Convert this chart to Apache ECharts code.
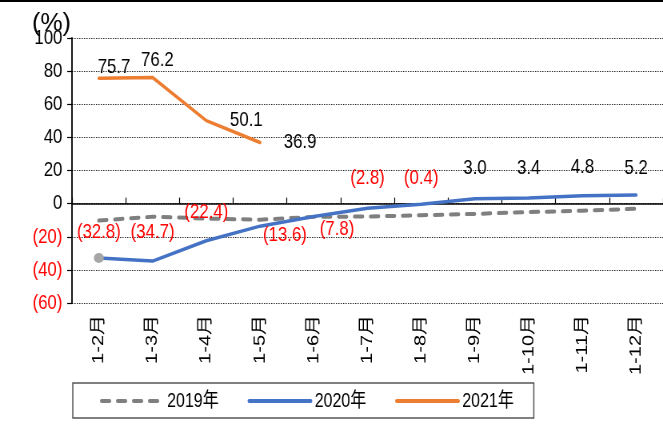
<!DOCTYPE html>
<html>
<head>
<meta charset="utf-8">
<script src="https://cdn.jsdelivr.net/npm/echarts@6/dist/echarts.min.js"></script>
<style>
html,body{margin:0;padding:0;background:#fff;overflow:hidden;width:663px;height:424px;}
#chart{width:829px;height:424px;transform:scaleX(0.79976);transform-origin:0 0;}
</style>
</head>
<body>
<div id="chart"></div>
<script>
// ---- data ----
var categories = ['1-2月','1-3月','1-4月','1-5月','1-6月','1-7月','1-8月','1-9月','1-10月','1-11月','1-12月'];
var s2019 = [-10.2, -7.9, -9.0, -9.7, -8.0, -7.8, -7.0, -6.2, -5.1, -4.3, -3.1];
var s2020 = [-32.8, -34.7, -22.4, -13.6, -7.8, -2.8, -0.4, 3.0, 3.4, 4.8, 5.2];
var s2021 = [75.7, 76.2, 50.1, 36.9];
var seriesNames = ['2019年', '2020年', '2021年'];
var yTicks = {min: -60, max: 100, interval: 20};

// label offsets (styling only, in unscaled px)
var off2020 = [[0,-26],[0,-29],[0,-29],[31,9],[29,13],[0,-30],[0,-26],[0,-30],[0,-30],[0,-28],[0,-27]];
var off2021 = [[19,-11],[6,-17],[50,0],[50,0]];

var FONT = "'Liberation Sans', Arial, 'Noto Sans CJK SC', sans-serif";

function fmt(v){ return v < 0 ? '(' + Math.abs(v).toFixed(1) + ')' : v.toFixed(1); }

function buildData(arr, offs, first){
  return arr.map(function(v, i){
    var item = {
      value: v,
      label: {
        show: true,
        position: 'inside',
        offset: offs[i],
        formatter: fmt(v),
        color: v < 0 ? '#ff0000' : '#000000',
        fontSize: 21,
        fontFamily: FONT
      }
    };
    if (first && i === 0) {
      item.symbolSize = [12.5, 10];
      item.itemStyle = {color: '#a6a6a6'};
    }
    return item;
  });
}

var chart = echarts.init(document.getElementById('chart'), null, {renderer: 'canvas', width: 829, height: 424});
chart.setOption({
  animation: false,
  backgroundColor: '#ffffff',
  grid: {left: 90, right: -3.5, top: 38, bottom: 121, containLabel: false},
  xAxis: [
    {
      type: 'category', data: categories, position: 'bottom', boundaryGap: true,
      axisLine: {show: false, onZero: false},
      axisTick: {show: false},
      axisLabel: {rotate: 90, margin: 12, fontSize: 20, color: '#000', fontFamily: FONT, interval: 0},
      splitLine: {show: false}
    },
    {
      type: 'category', data: categories, position: 'bottom', boundaryGap: true,
      axisLine: {show: true, onZero: true, lineStyle: {color: '#000', width: 1.5}},
      axisTick: {show: true, inside: true, length: 6, lineStyle: {color: '#000', width: 1.2}},
      axisLabel: {show: false},
      splitLine: {show: false}
    }
  ],
  yAxis: {
    type: 'value', min: yTicks.min, max: yTicks.max, interval: yTicks.interval,
    axisLine: {show: true, lineStyle: {color: '#000', width: 1.8}},
    axisTick: {show: true, length: 6, lineStyle: {color: '#000', width: 1.2}},
    axisLabel: {
      margin: 12, fontSize: 21, fontFamily: FONT,
      formatter: function(v){ return v < 0 ? '(' + Math.abs(v) + ')' : String(v); },
      color: function(v){ return Number(v) < 0 ? '#ff0000' : '#000000'; }
    },
    splitLine: {show: true, lineStyle: {color: '#222', type: [1.5, 1.5], width: 1}}
  },
  legend: {
    left: 91, top: 383,
    orient: 'horizontal',
    itemWidth: 77, itemHeight: 14, itemGap: 36,
    padding: [8, 25, 7, 34],
    borderColor: '#555', borderWidth: 1.5,
    itemStyle: {opacity: 0},
    lineStyle: {width: 4, cap: 'round'},
    textStyle: {fontSize: 20, color: '#000', fontFamily: FONT},
    data: seriesNames
  },
  graphic: [
    {type: 'rect', x: 0, y: 0, shape: {width: 829, height: 2}, style: {fill: '#000'}},
    {type: 'text', x: 40, y: 24, scaleX: 1.25, style: {text: '(%)', fontSize: 25, fontFamily: FONT, fill: '#000', textVerticalAlign: 'middle'}}
  ],
  series: [
    {
      name: seriesNames[0], type: 'line', data: s2019, xAxisIndex: 0,
      symbol: 'none',
      lineStyle: {color: '#7f7f7f', width: 4, type: [10, 10], cap: 'round'},
      itemStyle: {color: '#7f7f7f'},
      z: 2
    },
    {
      name: seriesNames[1], type: 'line', data: buildData(s2020, off2020, true), xAxisIndex: 0,
      symbol: 'circle', symbolSize: 0, showSymbol: true,
      lineStyle: {color: '#4472c4', width: 3.5, cap: 'round'},
      itemStyle: {color: '#4472c4'},
      z: 3
    },
    {
      name: seriesNames[2], type: 'line', data: buildData(s2021, off2021, false), xAxisIndex: 0,
      symbol: 'circle', symbolSize: 0, showSymbol: true,
      lineStyle: {color: '#ed7d31', width: 3.5, cap: 'round'},
      itemStyle: {color: '#ed7d31'},
      z: 4
    }
  ]
});
</script>
</body>
</html>
